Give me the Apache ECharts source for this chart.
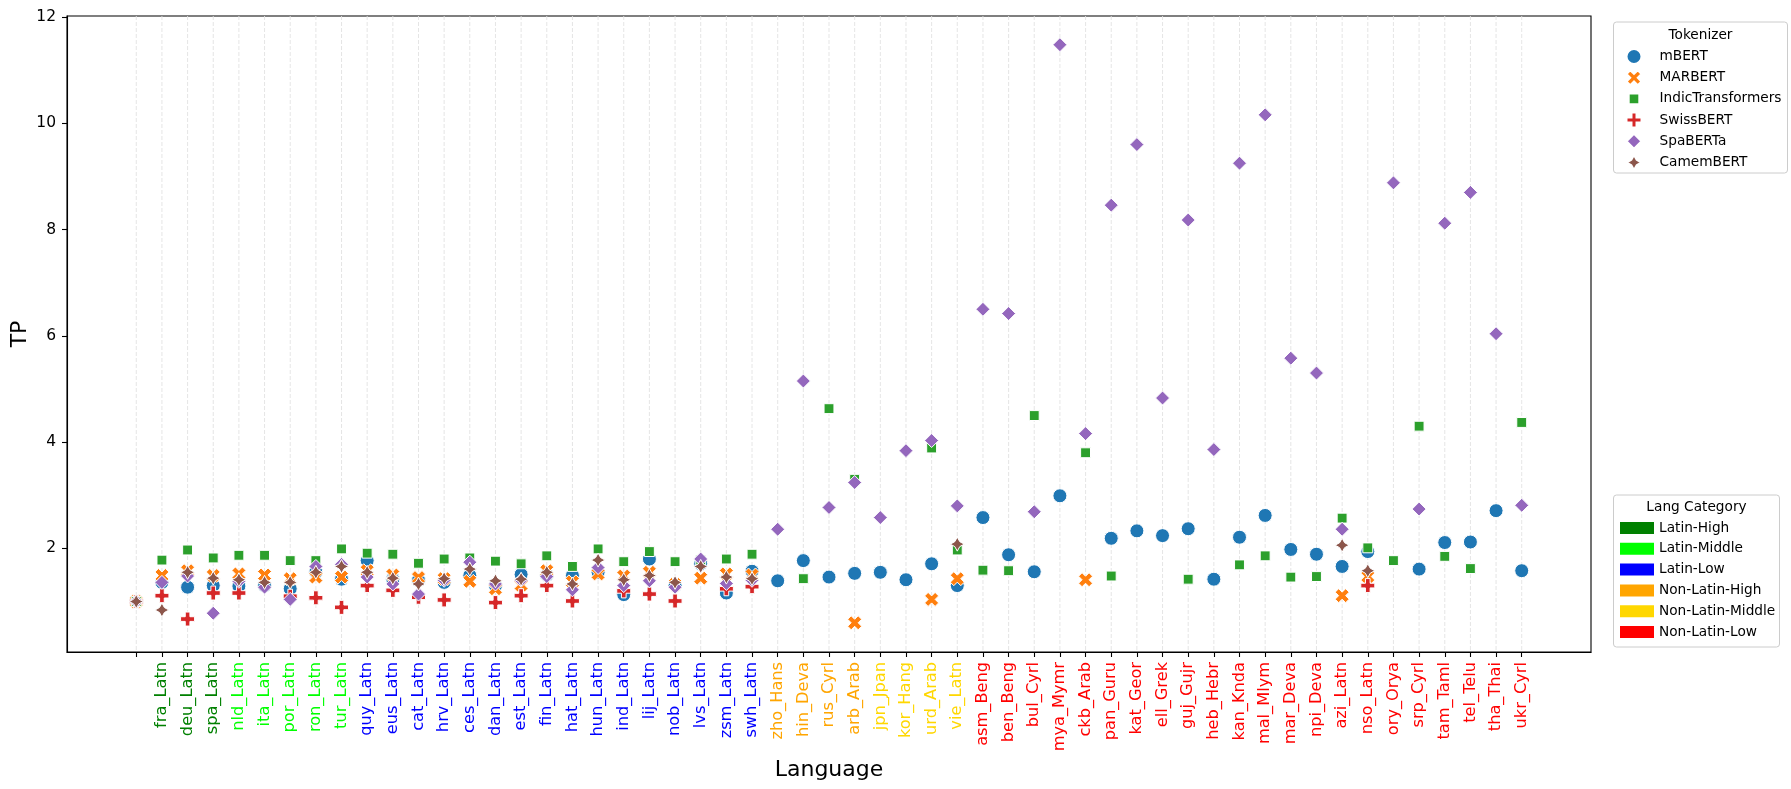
<!DOCTYPE html>
<html><head><meta charset="utf-8">
<script src="https://cdn.jsdelivr.net/npm/echarts@6/dist/echarts.min.js"></script>
<style>html,body{margin:0;padding:0;background:#fff}#c{width:1791px;height:789px}</style>
</head><body><div id="c"></div>
<script>
const categories = ['', 'fra_Latn', 'deu_Latn', 'spa_Latn', 'nld_Latn', 'ita_Latn', 'por_Latn', 'ron_Latn', 'tur_Latn',
  'quy_Latn', 'eus_Latn', 'cat_Latn', 'hrv_Latn', 'ces_Latn', 'dan_Latn', 'est_Latn', 'fin_Latn', 'hat_Latn', 'hun_Latn',
  'ind_Latn', 'lij_Latn', 'nob_Latn', 'lvs_Latn', 'zsm_Latn', 'swh_Latn', 'zho_Hans', 'hin_Deva', 'rus_Cyrl', 'arb_Arab',
  'jpn_Jpan', 'kor_Hang', 'urd_Arab', 'vie_Latn', 'asm_Beng', 'ben_Beng', 'bul_Cyrl', 'mya_Mymr', 'ckb_Arab', 'pan_Guru',
  'kat_Geor', 'ell_Grek', 'guj_Gujr', 'heb_Hebr', 'kan_Knda', 'mal_Mlym', 'mar_Deva', 'npi_Deva', 'azi_Latn', 'nso_Latn',
  'ory_Orya', 'srp_Cyrl', 'tam_Taml', 'tel_Telu', 'tha_Thai', 'ukr_Cyrl'];

const langGroup = ['', 'Latin-High', 'Latin-High', 'Latin-High', 'Latin-Middle', 'Latin-Middle', 'Latin-Middle', 'Latin-Middle', 'Latin-Middle',
  'Latin-Low', 'Latin-Low', 'Latin-Low', 'Latin-Low', 'Latin-Low', 'Latin-Low', 'Latin-Low', 'Latin-Low', 'Latin-Low', 'Latin-Low',
  'Latin-Low', 'Latin-Low', 'Latin-Low', 'Latin-Low', 'Latin-Low', 'Latin-Low', 'Non-Latin-High', 'Non-Latin-High', 'Non-Latin-High', 'Non-Latin-High',
  'Non-Latin-Middle', 'Non-Latin-Middle', 'Non-Latin-Middle', 'Non-Latin-Middle', 'Non-Latin-Low', 'Non-Latin-Low', 'Non-Latin-Low', 'Non-Latin-Low', 'Non-Latin-Low', 'Non-Latin-Low',
  'Non-Latin-Low', 'Non-Latin-Low', 'Non-Latin-Low', 'Non-Latin-Low', 'Non-Latin-Low', 'Non-Latin-Low', 'Non-Latin-Low', 'Non-Latin-Low', 'Non-Latin-Low', 'Non-Latin-Low',
  'Non-Latin-Low', 'Non-Latin-Low', 'Non-Latin-Low', 'Non-Latin-Low', 'Non-Latin-Low', 'Non-Latin-Low'];

const groupNames = ['Latin-High', 'Latin-Middle', 'Latin-Low', 'Non-Latin-High', 'Non-Latin-Middle', 'Non-Latin-Low'];
const groupColors = ['#008000', '#00ff00', '#0000ff', '#ffa500', '#ffd700', '#ff0000'];

const tokenizers = ['mBERT', 'MARBERT', 'IndicTransformers', 'SwissBERT', 'SpaBERTa', 'CamemBERT'];
const tokenizerColors = ['#1f77b4', '#ff7f0e', '#2ca02c', '#d62728', '#9467bd', '#8c564b'];

const mBERT = [1.00, 1.36, 1.27, 1.30, 1.29, 1.30, 1.24, 1.55, 1.42,
  1.77, 1.42, 1.40, 1.36, 1.49, 1.30, 1.51, 1.50, 1.49, 1.55,
  1.13, 1.80, 1.30, 1.71, 1.16, 1.57, 1.39, 1.77, 1.46, 1.53,
  1.55, 1.41, 1.71, 1.30, 2.58, 1.88, 1.56, 2.99, null, 2.19,
  2.33, 2.24, 2.37, 1.42, 2.21, 2.62, 1.98, 1.89, 1.66, 1.94,
  null, 1.61, 2.11, 2.12, 2.71, 1.58];
const MARBERT = [1.00, 1.49, 1.58, 1.49, 1.52, 1.50, 1.43, 1.46, 1.46,
  1.58, 1.50, 1.45, 1.43, 1.38, 1.24, 1.31, 1.58, 1.37, 1.52,
  1.48, 1.55, 1.32, 1.44, 1.52, 1.50, null, null, null, 0.60,
  null, null, 1.04, 1.43, null, null, null, null, 1.41, null,
  null, null, null, null, null, null, null, null, 1.11, 1.47,
  null, null, null, null, null, null];
const IndicTransformers = [1.00, 1.78, 1.97, 1.82, 1.87, 1.87, 1.77, 1.77, 1.99,
  1.91, 1.89, 1.72, 1.80, 1.82, 1.76, 1.71, 1.86, 1.66, 1.99,
  1.75, 1.94, 1.75, 1.78, 1.80, 1.89, null, 1.43, 4.63, 3.30,
  null, null, 3.89, 1.97, 1.59, 1.58, 4.50, null, 3.80, 1.48,
  null, null, 1.42, null, 1.69, 1.86, 1.46, 1.47, 2.57, 2.01,
  1.77, 4.30, 1.85, 1.62, null, 4.37];
const SwissBERT = [1.00, 1.11, 0.67, 1.16, 1.16, null, 1.10, 1.07, 0.89,
  1.30, 1.21, 1.08, 1.03, null, 0.98, 1.11, 1.30, 1.01, null,
  1.20, 1.14, 1.01, null, 1.24, 1.28, null, null, null, null,
  null, null, null, null, null, null, null, null, null, null,
  null, null, null, null, null, null, null, null, null, 1.30,
  null, null, null, null, null, null];
const SpaBERTa = [1.00, 1.36, 1.48, 0.78, 1.38, 1.27, 1.04, 1.66, 1.70,
  1.46, 1.33, 1.14, 1.40, 1.74, 1.33, 1.40, 1.47, 1.22, 1.64,
  1.30, 1.39, 1.27, 1.80, 1.34, 1.40, 2.36, 5.15, 2.77, 3.24,
  2.58, 3.84, 4.03, 2.80, 6.50, 6.42, 2.69, 11.48, 4.16, 8.46,
  9.60, 4.83, 8.18, 3.86, 9.25, 10.16, 5.58, 5.30, 2.36, null,
  8.88, 2.74, 8.12, 8.70, 6.04, 2.81];
const CamemBERT = [1.00, 0.84, 1.55, 1.44, 1.41, 1.36, 1.36, 1.55, 1.66,
  1.55, 1.44, 1.33, 1.43, 1.61, 1.39, 1.42, 1.55, 1.33, 1.78,
  1.41, 1.49, 1.36, 1.66, 1.46, 1.43, null, null, null, null,
  null, null, null, 2.08, null, null, null, null, null, null,
  null, null, null, null, null, null, null, null, 2.06, 1.58,
  null, null, null, null, null, null];

const yTicks = [2, 4, 6, 8, 10, 12];

const seriesValues = [mBERT, MARBERT, IndicTransformers, SwissBERT, SpaBERTa, CamemBERT];
const symbolList = [
  'circle',
  'path://M-1,-2L0,-1L1,-2L2,-1L1,0L2,1L1,2L0,1L-1,2L-2,1L-1,0L-2,-1Z',
  'path://M-1,-1L-1,-1ZM-0.7071,-0.7071L0.7071,-0.7071L0.7071,0.7071L-0.7071,0.7071ZM1,1L1,1Z',
  'path://M-1,-3L1,-3L1,-1L3,-1L3,1L1,1L1,3L-1,3L-1,1L-3,1L-3,-1L-1,-1Z',
  'diamond',
  'path://M0,-1L0.3536,-0.3536L1,0L0.3536,0.3536L0,1L-0.3536,0.3536L-1,0L-0.3536,-0.3536Z'
];
const catIdx = categories.map((_, i) => i);
const FONT = 'DejaVu Sans';
const Y_MIN = 0.05, Y_MAX = 12.02;

const chart = echarts.init(document.getElementById('c'), null, {renderer: 'canvas'});

const gridSeries = {
  type: 'custom', name: 'grid', silent: true, z: 1,
  data: catIdx.map(i => [i, Y_MIN]),
  encode: {x: 0, y: 1},
  renderItem: (params, api) => {
    const cs = params.coordSys;
    const x = api.coord([api.value(0), Y_MIN])[0];
    return {type: 'line', shape: {x1: x, y1: cs.y, x2: x, y2: cs.y + cs.height},
            style: {stroke: '#e2e2e2', lineWidth: 0.9, lineDash: [4, 2]}};
  }
};
const tokSeries = tokenizers.map((name, k) => ({
  type: 'scatter', name,
  data: seriesValues[k].map((v, i) => v == null ? null : [i, v]).filter(Boolean),
  symbol: symbolList[k], symbolSize: 14,
  itemStyle: {color: tokenizerColors[k], borderColor: '#ffffff', borderWidth: 1, opacity: 1},
  emphasis: {disabled: true}, z: 3
}));
const groupSeries = groupNames.map((name, k) => ({
  type: 'scatter', name, data: [],
  itemStyle: {color: groupColors[k], borderWidth: 0, opacity: 1}
}));

chart.setOption({
  animation: false,
  backgroundColor: '#ffffff',
  textStyle: {fontFamily: FONT},
  grid: {left: 67, top: 16, width: 1524, height: 636, show: true, borderColor: '#000', borderWidth: 1.1,
         containLabel: false, outerBoundsMode: 'none'},
  xAxis: {
    type: 'value', min: -2.7, max: 56.7,
    name: 'Language', nameLocation: 'middle', nameGap: 107, nameMoveOverlap: false,
    nameTextStyle: {fontSize: 22, color: '#000', fontFamily: FONT},
    axisLine: {show: true, onZero: false, lineStyle: {color: '#000', width: 1.1}},
    axisTick: {show: true, customValues: catIdx, length: 5, lineStyle: {color: '#000', width: 1.1}},
    axisLabel: {customValues: catIdx, rotate: 90, margin: 10, fontSize: 16.2, fontFamily: FONT,
      formatter: v => categories[Math.round(v)],
      color: v => { const g = langGroup[Math.round(+v)]; const gi = groupNames.indexOf(g); return gi >= 0 ? groupColors[gi] : '#000'; }},
    splitLine: {show: false}
  },
  yAxis: {
    type: 'value', min: Y_MIN, max: Y_MAX,
    name: 'TP', nameLocation: 'middle', nameGap: 36, nameMoveOverlap: false,
    nameTextStyle: {fontSize: 22, color: '#000', fontFamily: FONT},
    axisLine: {show: true, onZero: false, lineStyle: {color: '#000', width: 1.1}},
    axisTick: {show: true, customValues: yTicks, length: 5, lineStyle: {color: '#000', width: 1.1}},
    axisLabel: {customValues: yTicks, margin: 11, fontSize: 15.5, color: '#000', fontFamily: FONT},
    splitLine: {show: false}
  },
  legend: [
    {data: tokenizers, orient: 'vertical', left: 1625.5, top: 48, itemWidth: 15, itemHeight: 15, itemGap: 4.2,
     padding: 0, z: 10, selectedMode: false,
     textStyle: {fontSize: 13.7, color: '#000', fontFamily: FONT, lineHeight: 14, padding: [0, 0, 0, 13]}},
    {data: groupNames, orient: 'vertical', left: 1620, top: 521, itemWidth: 34, itemHeight: 12, itemGap: 6.8,
     icon: 'rect', padding: 0, z: 10, selectedMode: false,
     textStyle: {fontSize: 13.7, color: '#000', fontFamily: FONT, lineHeight: 14}}
  ],
  graphic: [
    {type: 'rect', z: 1, shape: {x: 1613.5, y: 22, width: 174, height: 151, r: 3},
     style: {fill: '#ffffff', stroke: '#cccccc', lineWidth: 1}},
    {type: 'text', z: 2, x: 1700.5, y: 35.5, style: {text: 'Tokenizer', align: 'center', verticalAlign: 'middle',
     font: '13.7px "DejaVu Sans"', fill: '#000'}},
    {type: 'rect', z: 1, shape: {x: 1613.5, y: 495, width: 166, height: 152, r: 3},
     style: {fill: '#ffffff', stroke: '#cccccc', lineWidth: 1}},
    {type: 'text', z: 2, x: 1696.5, y: 507, style: {text: 'Lang Category', align: 'center', verticalAlign: 'middle',
     font: '13.7px "DejaVu Sans"', fill: '#000'}}
  ],
  series: [gridSeries].concat(tokSeries, groupSeries)
});
</script></body></html>
